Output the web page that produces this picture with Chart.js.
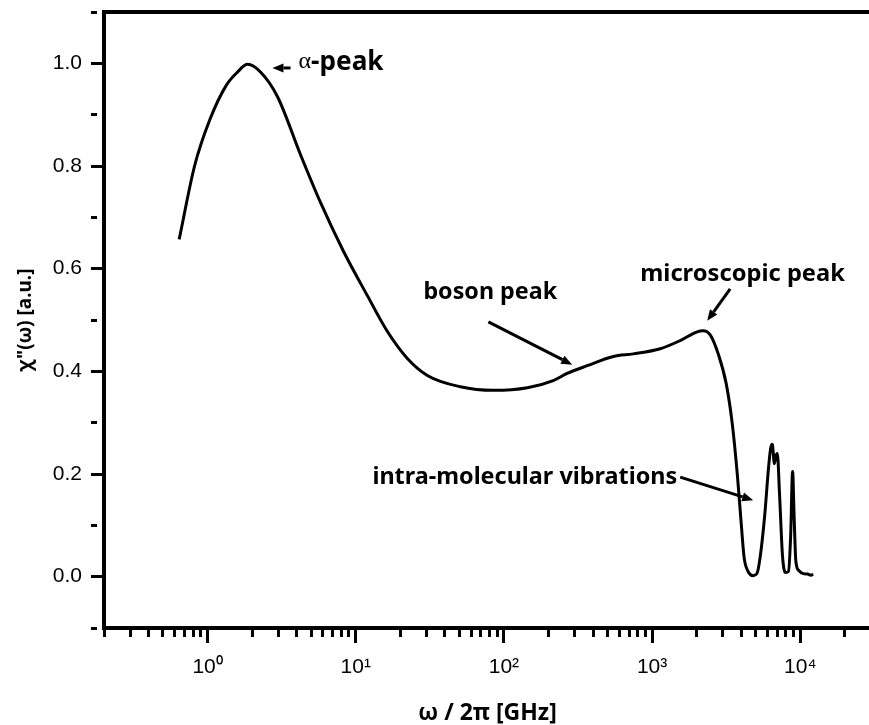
<!DOCTYPE html>
<html>
<head>
<meta charset="utf-8">
<script src="https://cdn.jsdelivr.net/npm/chart.js@4/dist/chart.umd.min.js"></script>
<style>
html, body { margin: 0; padding: 0; background: #fff; overflow: hidden; }
#wrap { width: 869px; height: 725px; overflow: hidden; }
</style>
</head>
<body>
<div id="wrap"><canvas id="myChart" width="880" height="725"></canvas></div>
<script>
// susceptibility spectrum
var freqGHz = [0.643, 0.817, 1.035, 1.343, 1.592, 1.862, 2.275, 2.965, 4.24, 5.78,
    8.26, 12.0, 16.4, 22.3, 30.4, 50.8, 84.9, 144, 215, 267,
    365, 547, 746, 1135, 1549, 2014, 2213, 2466, 2793, 3162,
    3470, 3750, 3990, 4178, 4446, 4808, 5100, 5370, 5754, 6095,
    6310, 6471, 6683, 6839, 6998, 7244, 7586, 7943, 8318, 8610,
    8872, 9078, 9333, 9772, 10471, 11220, 11749, 12246];
var chiLoss = [0.657, 0.80, 0.89, 0.958, 0.983, 0.998, 0.983, 0.935, 0.822, 0.729,
    0.634, 0.547, 0.477, 0.425, 0.392, 0.370, 0.363, 0.368, 0.382, 0.396,
    0.411, 0.429, 0.434, 0.444, 0.460, 0.477, 0.479, 0.471, 0.434, 0.376,
    0.299, 0.202, 0.105, 0.037, 0.010, 0.002, 0.006, 0.04, 0.12, 0.21,
    0.25, 0.258, 0.22, 0.235, 0.24, 0.16, 0.04, 0.008, 0.01, 0.08,
    0.205, 0.12, 0.03, 0.012, 0.006, 0.005, 0.003, 0.004];

// axis ticks
var xDecades = [1, 10, 100, 1000, 10000];
var xDecadeLabels = ['10\u2070', '10\u00b9', '10\u00b2', '10\u00b3', '10\u2074'];
var yTickValues = [-0.1, 0.0, 0.1, 0.2, 0.3, 0.4, 0.5, 0.6, 0.7, 0.8, 0.9, 1.0, 1.1];
var yTickLabels = ['', '0.0', '', '0.2', '', '0.4', '', '0.6', '', '0.8', '', '1.0', ''];

// annotations: text, where the text sits (GHz, chi) and the arrow
var noteTexts = ['\u03b1-peak', 'boson peak', 'microscopic peak', 'intra-molecular vibrations'];
var noteAt = [[4.11, 1.0025], [28.6, 0.5546], [831, 0.5895], [1477, 0.194]];
var arrowFrom = [[3.63, 0.991], [78.5, 0.4964], [3363, 0.5604], [1548, 0.194]];
var arrowTo = [[2.74, 0.991], [289, 0.413], [2353, 0.4984], [4805, 0.149]];

var X_MIN = 0.2, X_MAX = 30000;
var noteFamily = '"Comic Sans MS", "Noto Sans", sans-serif';
var noteWidths = [85, 134, 205, 305];

function isDecade(v) {
    var l = Math.log10(v);
    return Math.abs(l - Math.round(l)) < 1e-6;
}

function drawArrow(ctx, x1, y1, x2, y2) {
    var ang = Math.atan2(y2 - y1, x2 - x1);
    var head = 11, half = 4.5;
    var bx = x2 - head * Math.cos(ang), by = y2 - head * Math.sin(ang);
    ctx.beginPath();
    ctx.moveTo(x1, y1);
    ctx.lineTo(bx, by);
    ctx.lineWidth = 3;
    ctx.strokeStyle = '#000';
    ctx.stroke();
    ctx.beginPath();
    ctx.moveTo(x2, y2);
    ctx.lineTo(bx - half * Math.sin(ang), by + half * Math.cos(ang));
    ctx.lineTo(bx + half * Math.sin(ang), by - half * Math.cos(ang));
    ctx.closePath();
    ctx.fillStyle = '#000';
    ctx.fill();
}

var notesPlugin = {
    id: 'notes',
    afterDatasetsDraw: function (chart) {
        var ctx = chart.ctx;
        var xs = chart.scales.x, ys = chart.scales.y;
        ctx.save();
        for (var i = 0; i < noteTexts.length; i++) {
            drawArrow(ctx,
                xs.getPixelForValue(arrowFrom[i][0]), ys.getPixelForValue(arrowFrom[i][1]),
                xs.getPixelForValue(arrowTo[i][0]), ys.getPixelForValue(arrowTo[i][1]));

            var tx = xs.getPixelForValue(noteAt[i][0]);
            var ty = ys.getPixelForValue(noteAt[i][1]);
            var text = noteTexts[i];
            ctx.fillStyle = '#000';
            ctx.textBaseline = 'middle';

            if (text.charAt(0) == '\u03b1') {
                //greek letter in serif, rest bold
                var rest = text.substring(1);
                ctx.font = '24px "Liberation Serif", serif';
                var wa = ctx.measureText('\u03b1').width;
                ctx.font = 'bold 20px ' + noteFamily;
                var size = 20 * (noteWidths[i] - wa) / ctx.measureText(rest).width;
                ctx.textAlign = 'left';
                ctx.font = '24px "Liberation Serif", serif';
                ctx.fillText('\u03b1', tx, ty);
                ctx.font = 'bold ' + size.toFixed(1) + 'px ' + noteFamily;
                ctx.fillText(rest, tx + wa, ty);
                continue;
            }

            ctx.font = 'bold 20px ' + noteFamily;
            var fs = 20 * noteWidths[i] / ctx.measureText(text).width;
            ctx.font = 'bold ' + fs.toFixed(1) + 'px ' + noteFamily;
            ctx.textAlign = (i == 3) ? 'right' : 'left';
            ctx.fillText(text, tx, ty);
        }
        ctx.restore();
    }
};

var points = freqGHz.map(function (f, i) { return { x: f, y: chiLoss[i] }; });

var tickFont = { family: '"Liberation Sans", Arial, sans-serif', size: 21 };

var myChart = new Chart(document.getElementById('myChart'), {
    type: 'line',
    data: {
        datasets: [{
            data: points,
            borderColor: '#000',
            borderWidth: 3,
            pointRadius: 0,
            fill: false,
            cubicInterpolationMode: 'monotone'
        }]
    },
    options: {
        responsive: false,
        animation: false,
        layout: { padding: { top: 12, right: 9, left: 0, bottom: 0 } },
        plugins: {
            legend: { display: false },
            tooltip: { enabled: false }
        },
        scales: {
            x: {
                type: 'logarithmic',
                position: 'bottom',
                min: X_MIN,
                max: X_MAX,
                afterBuildTicks: function (scale) {
                    var t = [];
                    for (var k = -1; k <= 4; k++) {
                        for (var m = 1; m <= 9; m++) {
                            var v = m * Math.pow(10, k);
                            if (v >= X_MIN * 0.9999 && v <= X_MAX * 1.0001) t.push({ value: v });
                        }
                    }
                    scale.ticks = t;
                },
                afterFit: function (scale) {
                    scale.height = 97;
                    scale.paddingLeft = 0;
                    scale.paddingRight = 0;
                },
                border: { display: true, color: '#000', width: 4 },
                grid: {
                    drawOnChartArea: false,
                    drawTicks: true,
                    tickLength: 15,
                    tickWidth: 3,
                    tickColor: '#000',
                    tickBorderDash: function (c) {
                        return (c.tick && isDecade(c.tick.value)) ? [] : [7, 100];
                    }
                },
                ticks: {
                    autoSkip: false,
                    maxRotation: 0,
                    padding: 12,
                    color: '#000',
                    font: tickFont,
                    callback: function (value) {
                        for (var i = 0; i < xDecades.length; i++) {
                            if (Math.abs(value - xDecades[i]) < 1e-6 * xDecades[i]) return xDecadeLabels[i];
                        }
                        return '';
                    }
                },
                title: {
                    display: true,
                    text: '\u03c9 / 2\u03c0 [GHz]',
                    color: '#000',
                    font: { family: '"Noto Sans", sans-serif', size: 23, weight: 'bold', lineHeight: 1.0 },
                    padding: { top: 0, bottom: 0 }
                }
            },
            x2: {
                type: 'linear',
                position: 'top',
                afterFit: function (scale) { scale.height = 0; },
                border: { display: true, color: '#000', width: 4 },
                grid: { display: false, drawTicks: false },
                ticks: { display: false }
            },
            y: {
                type: 'linear',
                min: -0.1,
                max: 1.1,
                afterBuildTicks: function (scale) {
                    scale.ticks = yTickValues.map(function (v) { return { value: v }; });
                },
                afterFit: function (scale) {
                    scale.width = 104;
                    scale.paddingTop = 0;
                    scale.paddingBottom = 0;
                },
                border: { display: true, color: '#000', width: 4 },
                grid: {
                    drawOnChartArea: false,
                    drawTicks: true,
                    tickLength: 13,
                    tickWidth: 3,
                    tickColor: '#000',
                    tickBorderDash: function (c) {
                        if (!c.tick) return [];
                        var n = Math.round(c.tick.value * 10);
                        return (n >= 0 && n % 2 == 0) ? [] : [6, 100];
                    }
                },
                ticks: {
                    autoSkip: false,
                    padding: 9,
                    color: '#000',
                    font: tickFont,
                    callback: function (value, index) {
                        return yTickLabels[index];
                    }
                },
                title: {
                    display: true,
                    text: '\u03c7"(\u03c9) [a.u.]',
                    color: '#000',
                    font: { family: '"Noto Sans", sans-serif', size: 19, weight: 'bold' },
                    padding: { top: 14, bottom: 0 }
                }
            }
        }
    },
    plugins: [notesPlugin]
});
</script>
</body>
</html>
